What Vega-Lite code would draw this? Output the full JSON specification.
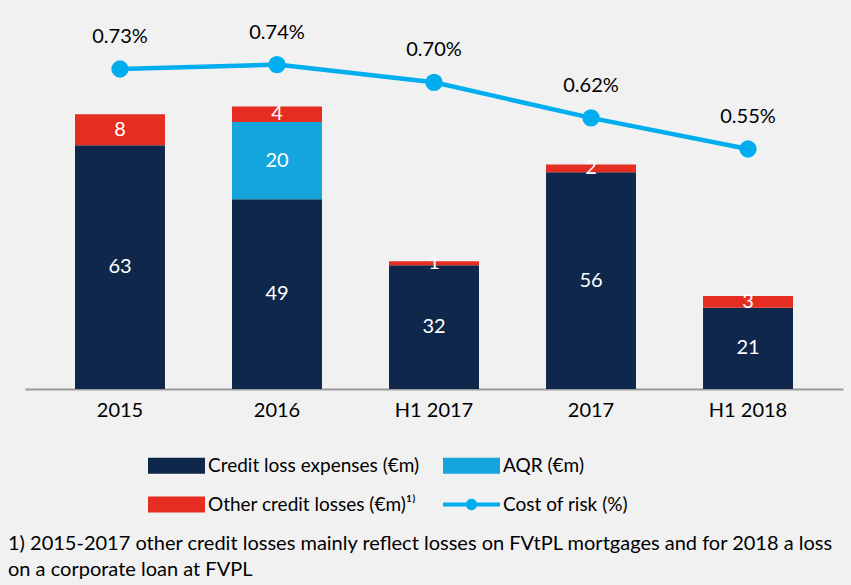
{
  "$schema": "https://vega.github.io/schema/vega-lite/v6.json",
  "width": 818,
  "height": 360,
  "autosize": {"type": "none"},
  "padding": {"left": 25, "top": 29, "right": 8, "bottom": 196},
  "background": "#f1f1f1",
  "config": {"view": {"stroke": null}, "font": "Lato"},
  "title": {
    "text": ["1) 2015-2017 other credit losses mainly reflect losses on FVtPL mortgages and for 2018 a loss", "on a corporate loan at FVPL"],
    "orient": "bottom", "anchor": "start", "frame": "group", "dx": -17, "offset": 19,
    "fontSize": 20, "fontWeight": "normal", "color": "#000000", "lineHeight": 26, "font": "Lato"
  },
  "datasets": {
    "bars": [
      {"period": "2015", "series": "Credit loss expenses (€m)", "value": 63, "o": 1},
      {"period": "2015", "series": "Other credit losses (€m)", "value": 8, "o": 3},
      {"period": "2016", "series": "Credit loss expenses (€m)", "value": 49, "o": 1},
      {"period": "2016", "series": "AQR (€m)", "value": 20, "o": 2},
      {"period": "2016", "series": "Other credit losses (€m)", "value": 4, "o": 3},
      {"period": "H1 2017", "series": "Credit loss expenses (€m)", "value": 32, "o": 1},
      {"period": "H1 2017", "series": "Other credit losses (€m)", "value": 1, "o": 3},
      {"period": "2017", "series": "Credit loss expenses (€m)", "value": 56, "o": 1},
      {"period": "2017", "series": "Other credit losses (€m)", "value": 2, "o": 3},
      {"period": "H1 2018", "series": "Credit loss expenses (€m)", "value": 21, "o": 1},
      {"period": "H1 2018", "series": "Other credit losses (€m)", "value": 3, "o": 3}
    ],
    "cor": [
      {"period": "2015", "cor": 0.0073},
      {"period": "2016", "cor": 0.0074},
      {"period": "H1 2017", "cor": 0.0070},
      {"period": "2017", "cor": 0.0062},
      {"period": "H1 2018", "cor": 0.0055}
    ]
  },
  "encoding": {
    "x": {
      "field": "period", "type": "nominal",
      "sort": ["2015", "2016", "H1 2017", "2017", "H1 2018"],
      "scale": {"paddingInner": 0.427, "paddingOuter": 0.3185},
      "axis": {
        "title": null, "labelAngle": 0, "ticks": false, "labelPadding": 11,
        "labelFontSize": 20, "labelColor": "#000000", "labelFont": "Lato",
        "domainColor": "#9a9a9a", "domainWidth": 2
      }
    }
  },
  "layer": [
    {
      "data": {"name": "bars"},
      "encoding": {
        "y": {"field": "value", "type": "quantitative", "stack": "zero", "scale": {"domain": [0, 93], "nice": false, "zero": true}, "axis": null},
        "order": {"field": "o", "type": "quantitative"}
      },
      "layer": [
        {
          "mark": {"type": "bar"},
          "encoding": {
            "color": {
              "field": "series", "type": "nominal",
              "scale": {
                "domain": ["Credit loss expenses (€m)", "AQR (€m)", "Other credit losses (€m)", "Cost of risk (%)"],
                "range": ["#0f274a", "#13a5dc", "#e52d22", "#00aeef"]
              },
              "legend": {
                "orient": "none", "legendX": 123, "legendY": 408, "direction": "horizontal", "columns": 2,
                "title": null, "labelFontSize": 19, "labelFont": "Lato", "labelColor": "#000000", "labelLimit": 400,
                "symbolType": "M-1,-0.28H1V0.28H-1Z", "symbolSize": 3249, "symbolStrokeWidth": 0,
                "symbolOpacity": 1,
                "rowPadding": -18, "columnPadding": 23, "labelOffset": 3,
                "labelExpr": "datum.value === 'Other credit losses (€m)' ? datum.value + '¹⁾' : datum.value",
                "encode": {
                  "symbols": {
                    "update": {
                      "shape": {"signal": "datum.value === 'Cost of risk (%)' ? 'M-1,-0.07H1V0.07H-1Z M-0.2,0A0.2,0.2 0 1,1 0.2,0A0.2,0.2 0 1,1 -0.2,0Z' : 'M-1,-0.28H1V0.28H-1Z'"}
                    }
                  }
                }
              }
            }
          }
        },
        {
          "mark": {"type": "text", "color": "#ffffff", "fontSize": 20, "baseline": "middle", "font": "Lato"},
          "encoding": {
            "y": {"field": "value", "type": "quantitative", "stack": "zero", "bandPosition": 0.5},
            "detail": {"field": "series", "type": "nominal"},
            "text": {"field": "value", "type": "quantitative"}
          }
        }
      ]
    },
    {
      "data": {"name": "cor"},
      "encoding": {
        "y": {"field": "cor", "type": "quantitative", "scale": {"domain": [0.0001, 0.0082], "nice": false, "zero": false}, "axis": null}
      },
      "layer": [
        {"mark": {"type": "line", "color": "#00aeef", "strokeWidth": 4.5}},
        {"mark": {"type": "point", "filled": true, "color": "#00aeef", "size": 300, "opacity": 1}},
        {
          "mark": {"type": "text", "color": "#000000", "fontSize": 20, "dy": -32, "baseline": "middle", "font": "Lato"},
          "encoding": {"text": {"field": "cor", "type": "quantitative", "format": ".2%"}}
        }
      ]
    }
  ],
  "resolve": {"scale": {"y": "independent"}}
}
